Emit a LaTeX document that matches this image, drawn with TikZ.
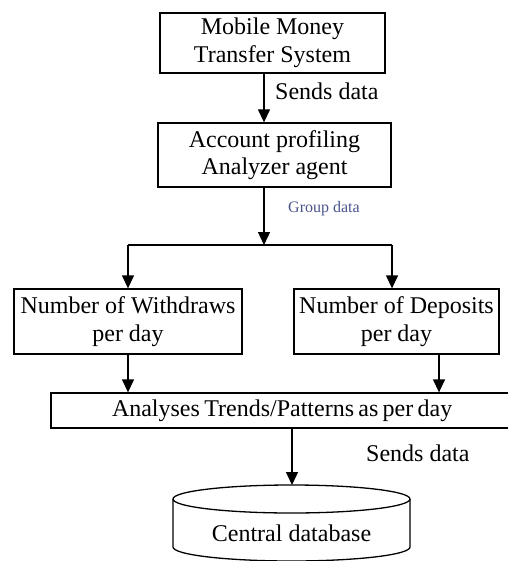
\documentclass[tikz,border=0pt]{standalone}
\usepackage{fontspec}
\setmainfont{Liberation Serif}
\usetikzlibrary{arrows.meta}
\definecolor{grouptxt}{RGB}{75,85,140}
\tikzset{
  boxnode/.style={draw, line width=1.3pt, align=center, font=\fontsize{24}{27.5}\selectfont, inner sep=0pt},
  flow/.style={line width=1.3pt, -{Triangle[width=12pt,length=13pt]}},
  plainline/.style={line width=1.3pt},
  lbl/.style={font=\fontsize{24}{27.5}\selectfont, inner sep=0pt},
}
\begin{document}
\begin{tikzpicture}[x=1pt,y=-1pt]
\useasboundingbox (0,0) rectangle (507,561);
\node[boxnode, minimum width=225pt, minimum height=60pt] (b1) at (272.5,43) {Mobile Money\\Transfer System};
\node[boxnode, minimum width=233pt, minimum height=64pt] (b2) at (274.5,155) {Account profiling\\Analyzer agent};
\node[boxnode, minimum width=228pt, minimum height=65pt] (b3) at (128,321.5) {Number of Withdraws\\per day};
\node[boxnode, minimum width=205pt, minimum height=65pt] (b4) at (396.5,321.5) {Number of Deposits\\per day};
\node[boxnode, minimum width=470pt, minimum height=35pt, text width=470pt, align=left] (b5) at (286,410.5) {\spaceskip=0.18em\hspace*{61pt}Analyses Trends/Patterns as per day};
\coordinate (c1) at (264,0);
\coordinate (split) at (264,245);
\coordinate (sl) at (128,245);
\coordinate (sr) at (392,245);
\coordinate (c3) at (128,0);
\coordinate (c4) at (439,0);
\coordinate (c5) at (292,0);
% cylinder
\coordinate (dbtop) at (292,485);
\draw[plainline, fill=white] (173,499) -- (173,547) arc[start angle=180, end angle=0, x radius=118.5, y radius=14] -- (410,499);
\draw[plainline] (291.5,499) ellipse[x radius=118.5, y radius=14];
\node[lbl] (db) at (291.5,533) {Central database};
% connectors
\draw[flow] (b1.south -| c1) -- (b2.north -| c1);
\node[lbl, anchor=west] (s1) at (275,91) {Sends data};
\draw[flow] (b2.south -| c1) -- (split);
\node[font=\fontsize{16}{18}\selectfont, text=grouptxt, inner sep=0pt, anchor=west] (g) at (288,209) {Group data};
\draw[plainline] (sl) -- (sr);
\draw[flow] (sl) -- (b3.north -| sl);
\draw[flow] (sr) -- (b4.north -| sr);
\draw[flow] (b3.south -| c3) -- (b5.north -| c3);
\draw[flow] (b4.south -| c4) -- (b5.north -| c4);
\draw[flow] (b5.south -| c5) -- (dbtop);
\node[lbl, anchor=west] (s2) at (366,453) {Sends data};
\end{tikzpicture}
\end{document}
